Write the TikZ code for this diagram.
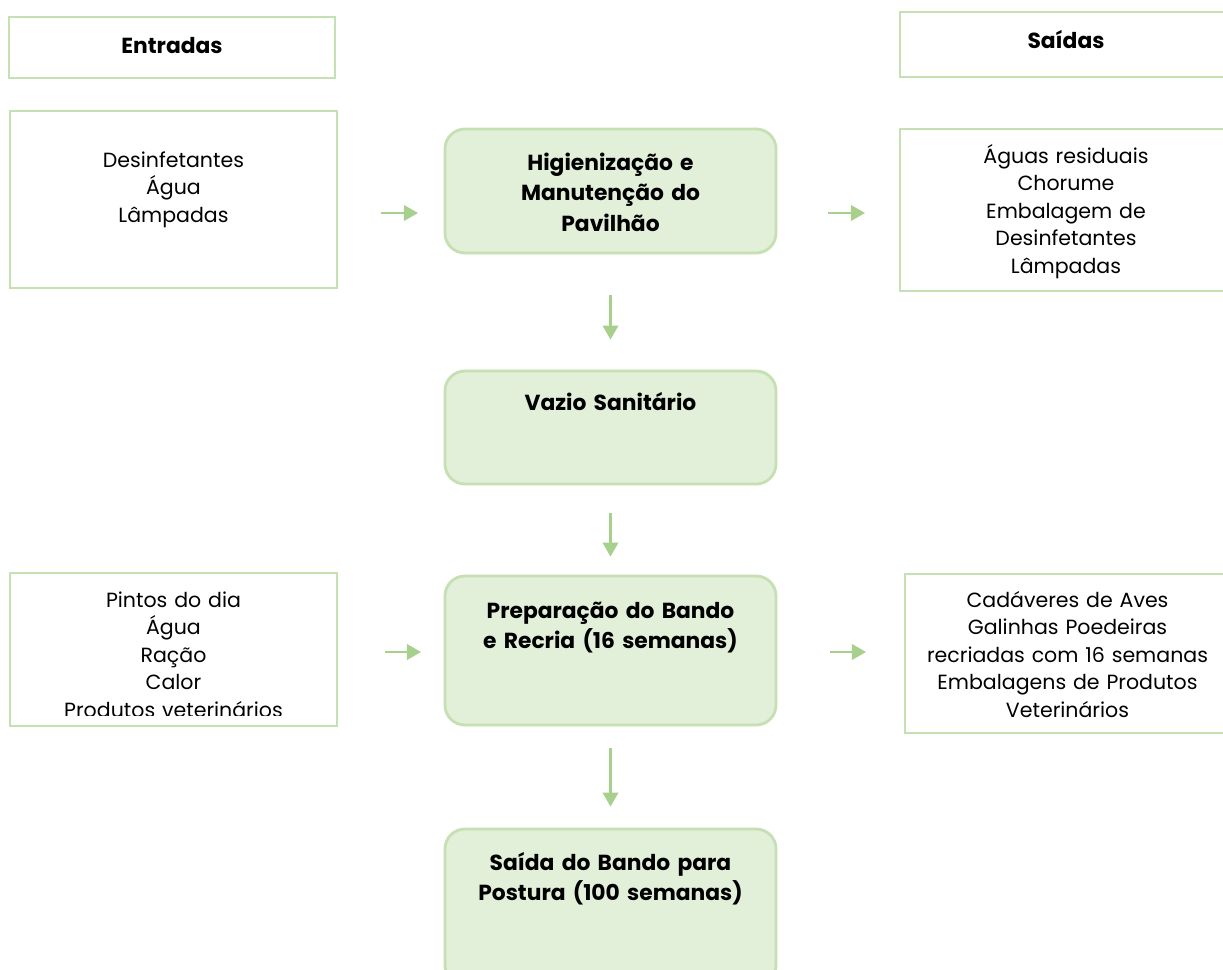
\documentclass[tikz,border=0pt]{standalone}
\usepackage{fontspec}
\setmainfont{Poppins}
\usetikzlibrary{arrows.meta}
\definecolor{boxline}{HTML}{C5E0B3}
\definecolor{boxfill}{HTML}{E2EFD9}
\definecolor{flowgreen}{HTML}{A8D08D}
\begin{document}
\begin{tikzpicture}[x=0.025cm,y=-0.025cm,
  ioframe/.style={draw=boxline,line width=2pt,fill=white,inner sep=0pt},
  stagebox/.style={draw=boxline,line width=2pt,fill=boxfill,rounded corners=0.5cm,inner sep=0pt},
  listtext/.style={font={\fontsize{14.6pt}{19.6pt}\selectfont},text width=8cm,align=center,anchor=base,inner sep=0pt},
  titletext/.style={font={\bfseries\fontsize{15.5pt}{22pt}\selectfont},text width=8cm,align=center,anchor=base,inner sep=0pt},
  flow/.style={draw=flowgreen,line width=1.6pt,-{Triangle[length=10pt,width=11pt]}}]
\useasboundingbox (0,0) rectangle (1223,969);
\clip (0,0) rectangle (1223,969);
\node[ioframe,minimum width=8.15cm,minimum height=1.525cm] (entr) at (172,47.5) {};
\node[titletext] (entrt) at (172,53) {Entradas};
\node[ioframe,minimum width=8.3cm,minimum height=1.625cm] (said) at (1066,44.5) {};
\node[titletext] (saidt) at (1066,48) {Saídas};
\node[ioframe,minimum width=8.175cm,minimum height=4.425cm] (insumA) at (173.5,199.5) {};
\node[listtext] (insumAt) at (173.5,167) {Desinfetantes\\Água\\Lâmpadas};
\node[stagebox,minimum width=8.275cm,minimum height=3.1cm] (hig) at (610.5,191) {};
\node[titletext] (higt) at (610.5,170) {Higienização e\\Manutenção do\\Pavilhão};
\node[ioframe,minimum width=8.3cm,minimum height=4.05cm] (residA) at (1066,210) {};
\node[listtext] (residAt) at (1066,163) {Águas residuais\\Chorume\\Embalagem de\\Desinfetantes\\Lâmpadas};
\node[stagebox,minimum width=8.275cm,minimum height=2.825cm] (vaz) at (610.5,427.5) {};
\node[titletext] (vazt) at (610.5,410) {Vazio Sanitário};
\node[ioframe,minimum width=8.175cm,minimum height=3.825cm] (insumB) at (173.5,649.5) {};
\begin{scope}
\clip (10,573) rectangle (337,715);
\node[listtext] (insumBt) at (173.5,607) {Pintos do dia\\Água\\Ração\\Calor\\Produtos veterinários};
\end{scope}
\node[stagebox,minimum width=8.275cm,minimum height=3.725cm] (prep) at (610.5,650.5) {};
\node[titletext] (prept) at (610.5,618) {Preparação do Bando\\e Recria (16 semanas)};
\node[ioframe,minimum width=8.125cm,minimum height=3.975cm] (residB) at (1067.5,653.5) {};
\node[listtext] (residBt) at (1067.5,607) {Cadáveres de Aves\\Galinhas Poedeiras\\recriadas com 16 semanas\\Embalagens de Produtos\\Veterinários};
\node[stagebox,minimum width=8.275cm,minimum height=3.9cm] (sai) at (610.5,907) {};
\node[titletext] (sait) at (610.5,870) {Saída do Bando para\\Postura (100 semanas)};
\coordinate (inA1) at (381,213);
\coordinate (inA2) at (418,213);
\coordinate (outA1) at (828,213);
\coordinate (outA2) at (865,213);
\coordinate (inB1) at (385,652);
\coordinate (inB2) at (421,652);
\coordinate (outB1) at (830,652);
\coordinate (outB2) at (866,652);
\draw[flow] (inA1) -- (inA2);
\draw[flow] (outA1) -- (outA2);
\draw[flow] (inB1) -- (inB2);
\draw[flow] (outB1) -- (outB2);
\draw[flow,shorten <=1.025cm,shorten >=0.75cm] (hig.south) -- (vaz.north);
\draw[flow,shorten <=0.7cm,shorten >=0.45cm] (vaz.south) -- (prep.north);
\draw[flow,shorten <=0.55cm,shorten >=0.525cm] (prep.south) -- (sai.north);
\end{tikzpicture}
\end{document}
